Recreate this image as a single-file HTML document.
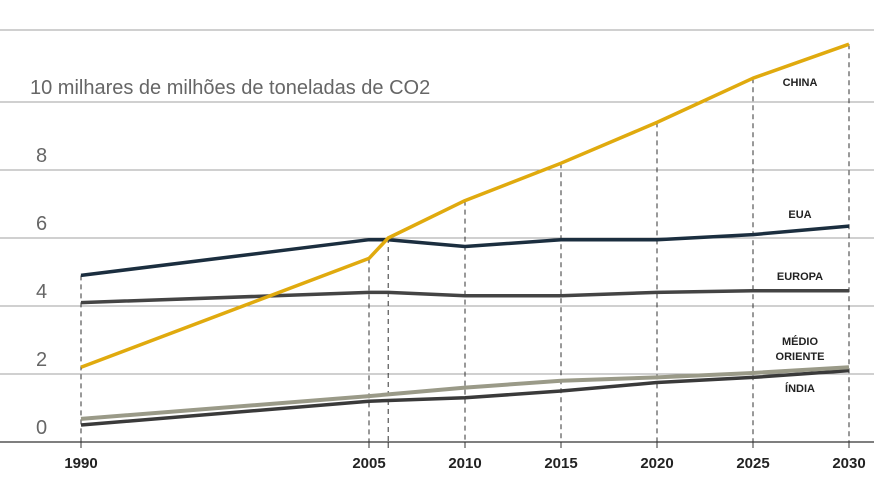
<!DOCTYPE html>
<html><head><meta charset="utf-8">
<style>
html,body{margin:0;padding:0;background:#fff;}
svg{display:block;font-family:"Liberation Sans",sans-serif;}
</style></head>
<body>
<svg id="chart" width="874" height="478" viewBox="0 0 874 478" xmlns="http://www.w3.org/2000/svg">
<g id="grid"></g>
<g id="drops"></g>
<g id="series"></g>
<g id="labels"></g>
</svg>
<script>
const years = [1990, 2005, 2006, 2010, 2015, 2020, 2025, 2030];
const tickYears = [1990, 2005, 2010, 2015, 2020, 2025, 2030];
const yTicks = [0, 2, 4, 6, 8];
const gridValues = [2, 4, 6, 8, 10];
const china = [2.2, 5.4, 6.0, 7.1, 8.2, 9.4, 10.7, 11.7];
const eua = [4.9, 5.95, 5.95, 5.75, 5.95, 5.95, 6.1, 6.35];
const europa = [4.1, 4.4, 4.4, 4.3, 4.3, 4.4, 4.45, 4.45];
const medio = [0.68, 1.35, 1.4, 1.6, 1.8, 1.9, 2.03, 2.2];
const india = [0.5, 1.2, 1.22, 1.3, 1.5, 1.75, 1.9, 2.1];

const NS = "http://www.w3.org/2000/svg";
const x = y => 81 + (y - 1990) * (849 - 81) / 40;
const yv = v => 442 - v * 34;
function mk(tag, attrs, parent, text){
  const e = document.createElementNS(NS, tag);
  for (const k in attrs) e.setAttribute(k, attrs[k]);
  if (text !== undefined) e.textContent = text;
  parent.appendChild(e); return e;
}
const grid = document.getElementById('grid');
gridValues.forEach(v => {
  const l = mk('line', {x1:0, x2:874, y1:yv(v), y2:yv(v), stroke:'#a0a0a0', 'stroke-width':1}, grid);
  
  
});
const topL = mk('line', {x1:0, x2:874, y1:30, y2:30, stroke:'#a0a0a0', 'stroke-width':1}, grid);


const ax = mk('line', {x1:0, x2:874, y1:442, y2:442, stroke:'#555', 'stroke-width':1.5}, grid);



const labels = document.getElementById('labels');
yTicks.forEach(v => {
  const t = mk('text', {x:36, y:yv(v) - 8, 'font-size':20, fill:'#666'}, labels, String(v));
  
  
});
const tt = mk('text', {x:30, y:94, 'font-size':20, fill:'#666'}, labels, '10 milhares de milhões de toneladas de CO2');



const drops = document.getElementById('drops');
years.forEach((yr, i) => {
  if (i === 0) {
    const d0 = mk('line', {x1:x(yr), x2:x(yr), y1:yv(eua[i]), y2:442, stroke:'#333', 'stroke-width':1, 'stroke-dasharray':'5,4'}, drops);
    
    
  } else {
    const d = mk('line', {x1:x(yr), x2:x(yr), y1:yv(china[i]), y2:442, stroke:'#333', 'stroke-width':1, 'stroke-dasharray':'5,4'}, drops);
    
    
  }
  const tk = mk('line', {x1:x(yr), x2:x(yr), y1:442, y2:448, stroke:'#333', 'stroke-width':1}, drops);
  
  
});
tickYears.forEach(yr => {
  const t = mk('text', {x:x(yr), y:468, 'font-size':15, 'font-weight':'bold', fill:'#222', 'text-anchor':'middle'}, labels, String(yr));
  
  
});

const series = document.getElementById('series');
const defs = [
  ['europa', europa, '#444', 3.5],
  ['india', india, '#3a3a3a', 3.5],
  ['medio-oriente', medio, '#9a9a88', 4],
  ['eua', eua, '#1b2e3f', 3.5],
  ['china', china, '#e0aa0e', 3.5]
];
defs.forEach(([name, vals, col, w]) => {
  const pts = vals.map((v, i) => x(years[i]) + ',' + yv(v)).join(' ');
  const p = mk('polyline', {points:pts, fill:'none', stroke:col, 'stroke-width':w, 'stroke-linejoin':'round'}, series);
  
  
});

const names = [['CHINA', 86], ['EUA', 218], ['EUROPA', 280], ['MÉDIO', 345], ['ORIENTE', 360], ['ÍNDIA', 392]];
names.forEach(([n, yy]) => {
  const t = mk('text', {x:800, y:yy, 'font-size':11, 'font-weight':'600', fill:'#222', 'text-anchor':'middle'}, labels, n);
  
  
});
</script>
</body></html>
